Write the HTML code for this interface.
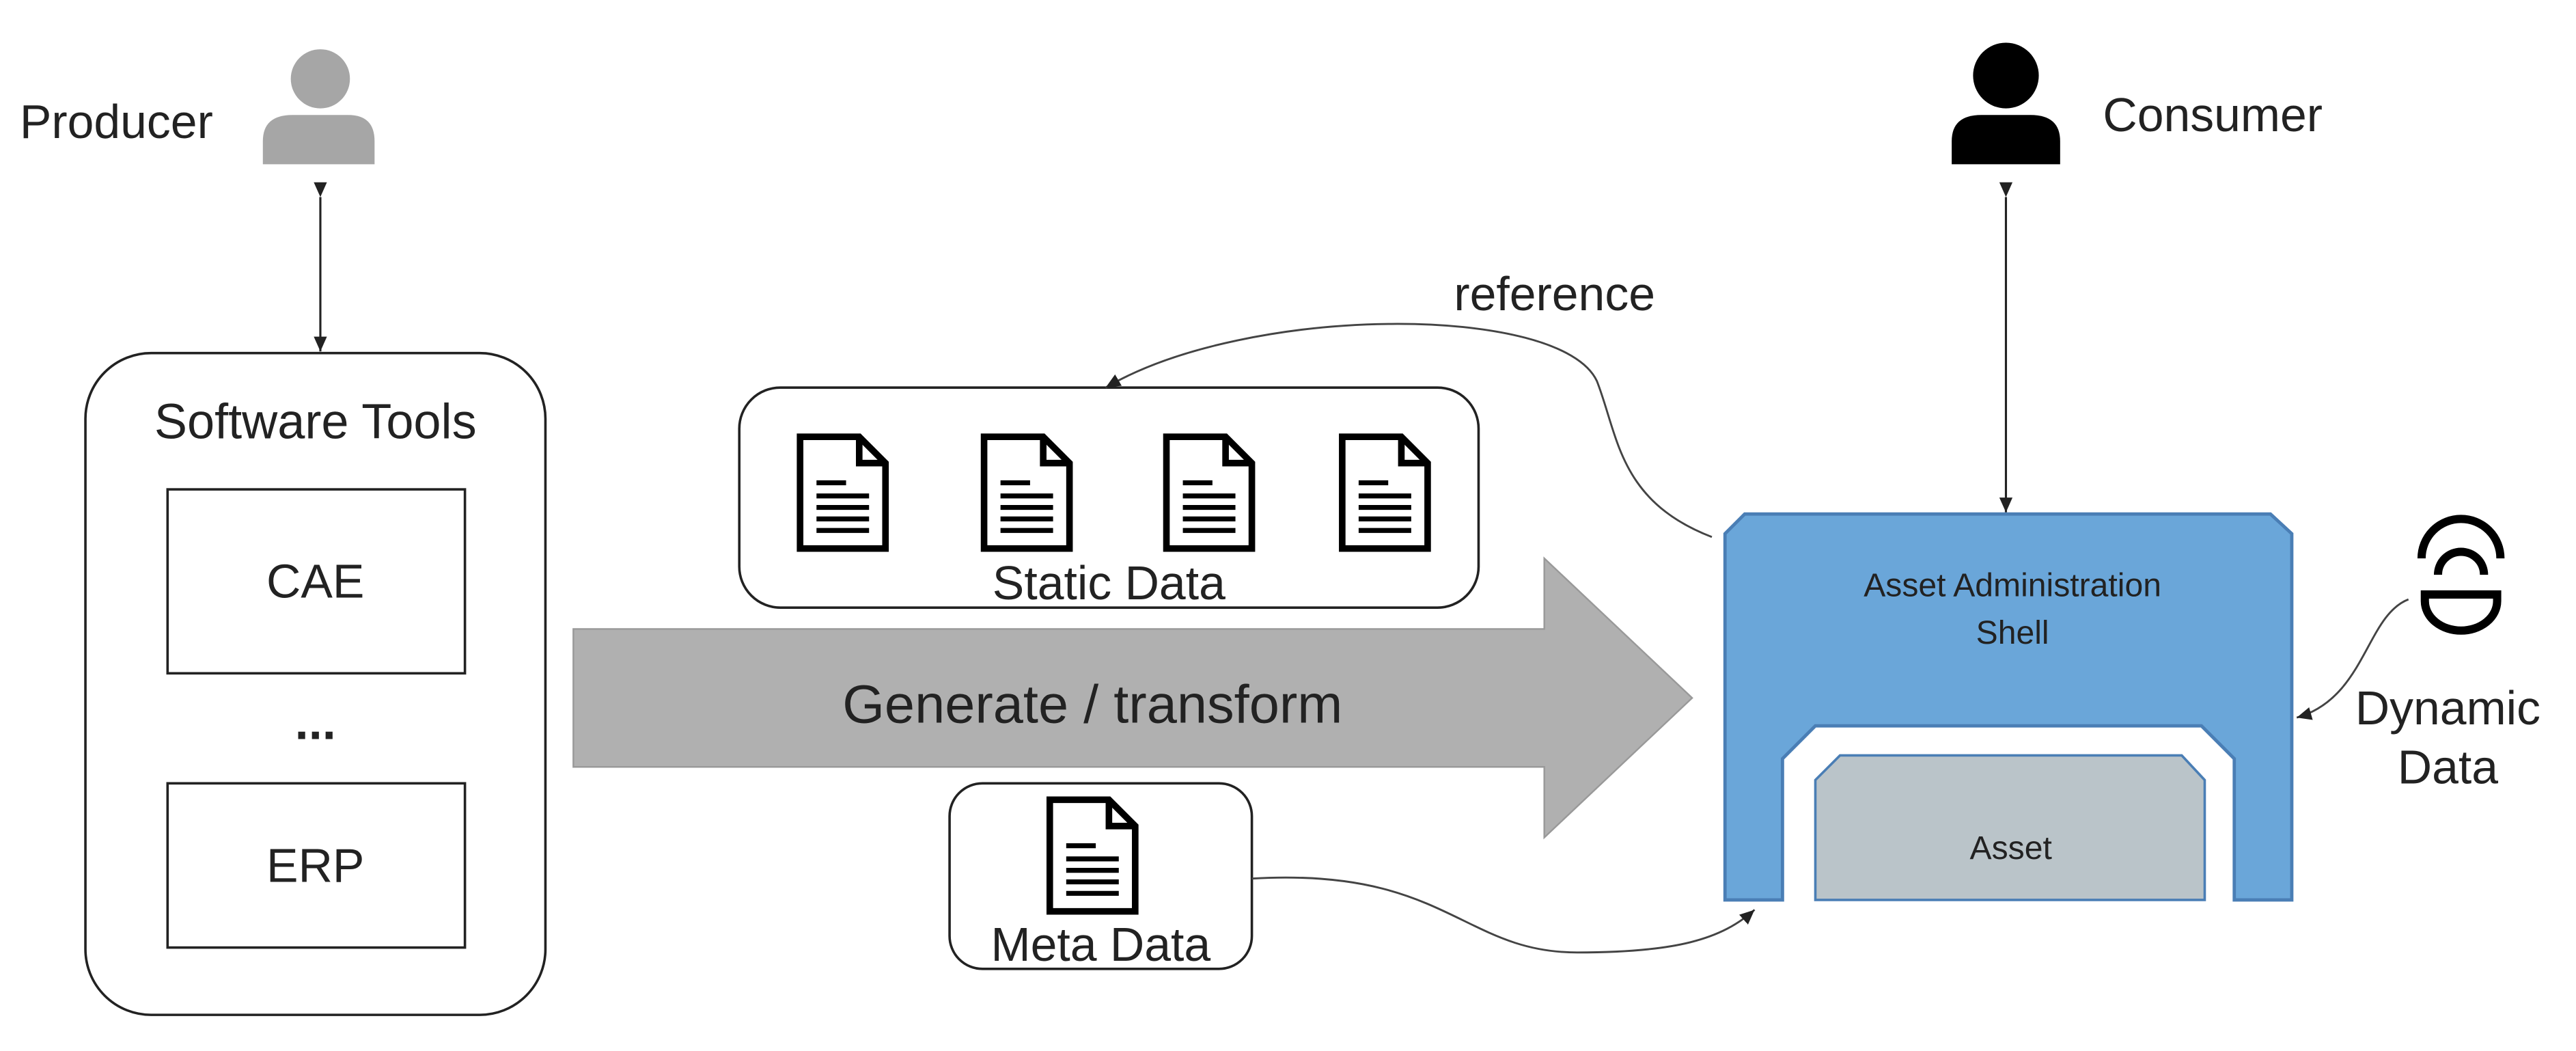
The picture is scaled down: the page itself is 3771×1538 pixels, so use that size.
<!DOCTYPE html>
<html><head><meta charset="utf-8"><style>
html,body{margin:0;padding:0;background:#fff;}
svg{display:block;}
text{font-family:"Liberation Sans",sans-serif;fill:#222;}
</style></head><body>
<svg width="3771" height="1538" viewBox="0 0 1568 640" preserveAspectRatio="none" xmlns="http://www.w3.org/2000/svg">
<defs>
<marker id="ar" markerWidth="10" markerHeight="10" refX="9" refY="5" orient="auto" markerUnits="userSpaceOnUse">
<path d="M0,1 L9,5 L0,9 Z" fill="#222"/></marker>
<g id="doc">
<path d="M2,2 L38,2 L54,18 L54,70 L2,70 Z" fill="#fff" stroke="#000" stroke-width="4" stroke-linejoin="miter"/>
<path d="M38,2 L38,18 L54,18" fill="none" stroke="#000" stroke-width="4"/>
<path d="M12,30 H30 M12,38 H44 M12,45 H44 M12,52 H44 M12,59 H44" stroke="#000" stroke-width="3"/>
</g>
</defs>

<text x="12" y="84" font-size="29">Producer</text>
<circle cx="195" cy="48" r="18" fill="#a6a6a6"/>
<path d="M160,100 L160,86 Q160,70 178,70 L212,70 Q228,70 228,86 L228,100 Z" fill="#a6a6a6"/>
<line x1="195" y1="120" x2="195" y2="214" stroke="#222" stroke-width="1.3" marker-start="url(#ar)" marker-end="url(#ar)"/>

<rect x="52" y="215" width="280" height="403" rx="40" fill="#fff" stroke="#222" stroke-width="1.5"/>
<text x="192" y="267" font-size="30" text-anchor="middle">Software Tools</text>
<rect x="102" y="298" width="181" height="112" fill="#fff" stroke="#222" stroke-width="1.5"/>
<text x="192" y="364" font-size="29" text-anchor="middle">CAE</text>
<text x="192" y="450" font-size="30" font-weight="bold" text-anchor="middle">...</text>
<rect x="102" y="477" width="181" height="100" fill="#fff" stroke="#222" stroke-width="1.5"/>
<text x="192" y="537" font-size="29" text-anchor="middle">ERP</text>

<rect x="450" y="236" width="450" height="134" rx="25" fill="#fff" stroke="#222" stroke-width="1.5"/>
<use href="#doc" x="485" y="264"/>
<use href="#doc" x="597" y="264"/>
<use href="#doc" x="708" y="264"/>
<use href="#doc" x="815" y="264"/>
<text x="675" y="365" font-size="29" text-anchor="middle">Static Data</text>

<path d="M349,383 L940,383 L940,340 L1030,425 L940,510 L940,467 L349,467 Z" fill="#b0b0b0" stroke="#999" stroke-width="1"/>
<text x="665" y="440" font-size="33" text-anchor="middle">Generate / transform</text>

<rect x="578" y="477" width="184" height="113" rx="20" fill="#fff" stroke="#222" stroke-width="1.5"/>
<use href="#doc" x="637" y="485"/>
<text x="670" y="585" font-size="29" text-anchor="middle">Meta Data</text>

<circle cx="1221" cy="46" r="20" fill="#000"/>
<path d="M1188,100 L1188,86 Q1188,70 1206,70 L1236,70 Q1254,70 1254,86 L1254,100 Z" fill="#000"/>
<text x="1280" y="80" font-size="29">Consumer</text>
<line x1="1221" y1="120" x2="1221" y2="312" stroke="#222" stroke-width="1.3" marker-start="url(#ar)" marker-end="url(#ar)"/>

<text x="885" y="189" font-size="29">reference</text>
<path d="M1042,327 C985,305 985,265 972,232 C950,185 760,185 673,236" fill="none" stroke="#444" stroke-width="1.2" marker-end="url(#ar)"/>

<path d="M1050,325 L1062,313 L1382,313 L1395,325 L1395,548 L1360,548 L1360,462 L1340,442 L1105,442 L1085,462 L1085,548 L1050,548 Z" fill="#6aa6d9" stroke="#4a7eb5" stroke-width="2"/>
<text x="1225" y="363" font-size="20" text-anchor="middle">Asset Administration</text>
<text x="1225" y="392" font-size="20" text-anchor="middle">Shell</text>
<path d="M1105,548 L1105,475 L1120,460 L1328,460 L1342,475 L1342,548 Z" fill="#bac4c9" stroke="#4a7eb5" stroke-width="1.5"/>
<text x="1224" y="523" font-size="20" text-anchor="middle">Asset</text>

<path d="M762,535 C880,528 890,580 960,580 C1020,580 1048,572 1068,554" fill="none" stroke="#444" stroke-width="1.2" marker-end="url(#ar)"/>

<path d="M1474,340 A24,24 0 0 1 1522,340" fill="none" stroke="#000" stroke-width="5"/>
<path d="M1484,350 A14,14 0 0 1 1512,350" fill="none" stroke="#000" stroke-width="5"/>
<path d="M1476,362 L1520,362 L1520,366 A22,18 0 0 1 1476,366 Z" fill="none" stroke="#000" stroke-width="5"/>
<path d="M1466,365 C1440,375 1440,425 1398,437" fill="none" stroke="#444" stroke-width="1.2" marker-end="url(#ar)"/>
<text x="1490" y="441" font-size="29" text-anchor="middle">Dynamic</text>
<text x="1490" y="477" font-size="29" text-anchor="middle">Data</text>
</svg>
</body></html>
